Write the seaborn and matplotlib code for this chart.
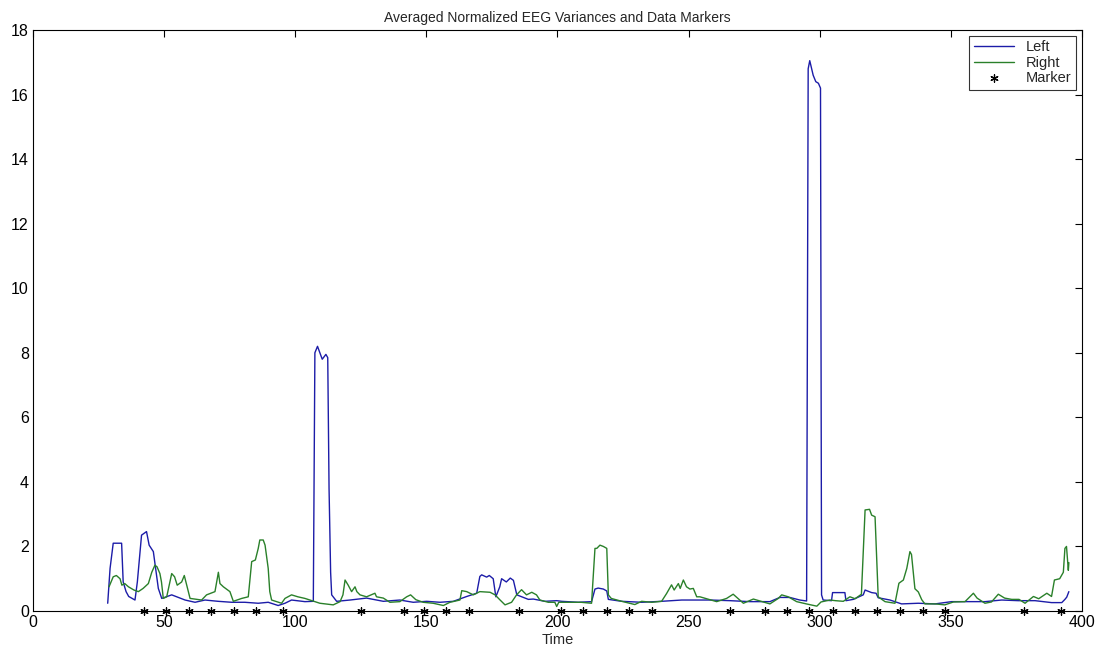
import matplotlib
matplotlib.use("Agg")
import matplotlib.pyplot as plt
import seaborn as sns

# Left channel (blue)
left_t = [28.5, 29.4, 30.6, 33.8, 34.4, 35.5, 36.5, 38.9, 39.8, 41.4, 43.3, 44.3, 45.9,
          47.8, 49.1, 52.9, 58.0, 61.8, 65.6, 70.6, 75.8, 80.8, 85.9, 89.7, 93.5, 96.1,
          98.6, 103.7, 106.9, 107.5, 108.5, 110.3, 111.7, 112.4, 112.9, 113.5, 113.9,
          115.8, 120.9, 127.2, 133.6, 139.9, 145.0, 150.1, 155.2, 160.3, 165.4, 169.2,
          170.4, 171.1, 173.0, 174.0, 175.5, 176.5, 178.0, 178.7, 180.5, 182.0, 183.2,
          184.5, 188.9, 190.8, 195.2, 199.7, 201.6, 207.9, 213.0, 214.3, 215.5, 217.5,
          218.8, 219.4, 224.5, 232.1, 239.7, 247.4, 252.4, 258.2, 265.8, 273.4, 281.0,
          284.8, 288.6, 292.4, 295.0, 295.6, 296.2, 297.5, 298.5, 299.5, 300.3, 300.7,
          301.3, 304.5, 304.9, 309.6, 310.0, 312.8, 316.6, 317.3, 319.8, 321.5, 322.3,
          326.8, 331.2, 337.6, 344.0, 350.3, 356.7, 363.0, 369.4, 375.7, 382.1, 388.4,
          392.3, 393.5, 394.2, 395.0]
left_v = [0.24, 1.32, 2.10, 2.10, 0.90, 0.60, 0.45, 0.34, 0.90, 2.35, 2.46, 2.04, 1.84,
          0.70, 0.39, 0.50, 0.34, 0.27, 0.34, 0.30, 0.27, 0.27, 0.24, 0.27, 0.17, 0.24,
          0.34, 0.29, 0.30, 8.00, 8.20, 7.80, 7.95, 7.85, 3.80, 1.20, 0.50,
          0.30, 0.34, 0.40, 0.30, 0.34, 0.27, 0.30, 0.27, 0.30, 0.45, 0.55,
          1.07, 1.12, 1.05, 1.10, 1.00, 0.44, 0.75, 1.00, 0.90, 1.02, 0.95,
          0.50, 0.36, 0.37, 0.30, 0.32, 0.30, 0.27, 0.29, 0.68, 0.71, 0.68,
          0.62, 0.36, 0.30, 0.27, 0.30, 0.34, 0.34, 0.34, 0.32, 0.29, 0.29,
          0.42, 0.42, 0.34, 0.31, 16.80, 17.05, 16.60, 16.40, 16.35, 16.20, 0.50,
          0.34, 0.32, 0.57, 0.57, 0.32, 0.36, 0.50, 0.65, 0.57, 0.55, 0.41,
          0.34, 0.22, 0.24, 0.22, 0.29, 0.29, 0.29, 0.34, 0.32, 0.32, 0.26,
          0.26, 0.36, 0.43, 0.60]

# Right channel (green)
right_t = [29.0, 30.6, 31.8, 33.2, 33.9, 35.0, 36.4, 38.5, 40.2, 42.0, 44.0, 45.3, 46.5,
           47.3, 48.4, 49.0, 49.7, 51.0, 52.9, 54.0, 55.0, 56.7, 57.7, 58.8, 59.9, 64.3,
           66.2, 69.4, 70.7, 71.3, 72.6, 75.1, 76.4, 79.6, 82.1, 83.4, 84.8, 85.9, 86.5,
           87.8, 88.5, 89.7, 90.3, 91.0, 94.8, 96.1, 98.6, 101.0, 103.7, 109.4, 114.5,
           117.1, 118.2, 119.0, 120.2, 121.5, 122.8, 123.5, 124.7, 127.2, 130.4, 131.0,
           133.6, 136.1, 139.9, 142.5, 144.0, 146.0, 148.8, 152.6, 156.5, 159.0, 162.8,
           163.5, 165.4, 167.9, 170.4, 174.3, 176.2, 178.0, 180.0, 182.5, 184.4, 186.3,
           188.2, 190.2, 192.0, 193.3, 196.5, 199.0, 199.7, 200.5, 205.4, 209.0, 213.0,
           214.3, 215.0, 216.2, 217.5, 218.8, 219.4, 220.5, 224.5, 229.5, 232.1, 236.0,
           239.7, 241.6, 243.5, 244.5, 246.1, 246.8, 248.0, 249.2, 250.5, 251.8, 253.1,
           254.3, 260.7, 264.5, 267.0, 270.9, 274.7, 281.0, 284.2, 285.5, 288.0, 291.2,
           294.9, 298.9, 300.5, 303.9, 306.0, 309.0, 311.5, 313.5, 315.9, 317.3, 319.0,
           319.8, 321.1, 322.3, 324.9, 328.7, 330.2, 331.9, 333.2, 334.4, 335.0, 336.3,
           337.6, 338.9, 340.1, 344.0, 347.7, 351.0, 355.4, 358.6, 360.0, 363.0, 365.5,
           368.1, 370.5, 373.2, 376.0, 378.3, 381.5, 383.5, 386.6, 388.4, 389.5, 391.5,
           392.9, 393.5, 394.1, 394.8, 395.0]
right_v = [0.75, 1.06, 1.10, 1.00, 0.80, 0.85, 0.75, 0.65, 0.60, 0.70, 0.85, 1.20, 1.42,
           1.37, 1.16, 0.90, 0.39, 0.44, 1.16, 1.06, 0.80, 0.90, 1.10, 0.75, 0.39, 0.34,
           0.50, 0.60, 1.20, 0.85, 0.75, 0.60, 0.30, 0.39, 0.44, 1.53, 1.58, 1.94, 2.20,
           2.20, 2.04, 1.32, 0.60, 0.34, 0.24, 0.39, 0.50, 0.44, 0.39, 0.24, 0.19,
           0.29, 0.50, 0.96, 0.80, 0.60, 0.75, 0.60, 0.50, 0.44, 0.55, 0.44,
           0.40, 0.27, 0.29, 0.44, 0.50, 0.35, 0.27, 0.24, 0.17, 0.27, 0.34,
           0.63, 0.60, 0.50, 0.60, 0.58, 0.50, 0.35, 0.19, 0.27, 0.50, 0.66,
           0.50, 0.58, 0.50, 0.34, 0.27, 0.27, 0.14, 0.27, 0.27, 0.27, 0.24,
           1.94, 1.94, 2.04, 2.00, 1.94, 0.50, 0.39, 0.30, 0.20, 0.30, 0.27,
           0.30, 0.54, 0.81, 0.65, 0.85, 0.70, 0.96, 0.75, 0.68, 0.70, 0.44,
           0.44, 0.29, 0.39, 0.52, 0.24, 0.37, 0.22, 0.39, 0.50, 0.44, 0.29,
           0.22, 0.15, 0.28, 0.34, 0.32, 0.30, 0.44, 0.38, 0.52, 3.13, 3.15,
           2.97, 2.92, 0.44, 0.29, 0.24, 0.86, 0.96, 1.32, 1.84, 1.75, 0.69,
           0.59, 0.35, 0.22, 0.22, 0.19, 0.28, 0.29, 0.55, 0.40, 0.24, 0.28,
           0.52, 0.40, 0.36, 0.36, 0.24, 0.45, 0.38, 0.55, 0.45, 0.96, 1.00,
           1.20, 1.94, 2.00, 1.26, 1.50]

# Data markers (time stamps)
marker_t = [42.3, 50.7, 59.4, 67.7, 76.8, 85.2, 95.3, 125.2, 141.5, 149.1, 157.4, 166.1,
            185.4, 201.3, 209.8, 218.8, 227.1, 235.9, 265.7, 279.1, 287.5, 296.0, 304.9,
            313.4, 322.0, 330.6, 339.4, 347.9, 378.0, 392.0]
marker_v = [0] * len(marker_t)

sns.set_theme(style="white")
plt.rcParams["font.family"] = ["Liberation Sans", "DejaVu Sans"]

fig = plt.figure(figsize=(10.99, 6.48), dpi=100)
ax = fig.add_axes([0.030, 0.0571, 0.9545, 0.8966])

sns.lineplot(x=left_t, y=left_v, color="#1c1ca8", linewidth=1.0, label="Left",
             sort=False, ax=ax)
sns.lineplot(x=right_t, y=right_v, color="#2a802a", linewidth=1.0, label="Right",
             sort=False, ax=ax)
sns.scatterplot(x=marker_t, y=marker_v, marker=(6, 2, 0), color="black", s=28,
                linewidth=0.9, label="Marker", clip_on=False, zorder=5, ax=ax)

ax.set_xlim(0, 400)
ax.set_ylim(0, 18)
ax.set_xticks(range(0, 401, 50))
ax.set_yticks(range(0, 19, 2))
ax.tick_params(direction="in", length=5, width=0.8, top=True, right=True,
               labelsize=11.5, colors="black", pad=3)
for s in ax.spines.values():
    s.set_color("black")
    s.set_linewidth(0.8)

ax.set_title("Averaged Normalized EEG Variances and Data Markers", fontsize=10, pad=6)
ax.set_xlabel("Time", fontsize=10.5, labelpad=2)
ax.set_ylabel("")

leg = ax.legend(loc="upper right", fontsize=10.5, frameon=True, fancybox=False,
                edgecolor="black", borderpad=0.3, labelspacing=0.1,
                handlelength=2.8, borderaxespad=0.4)
leg.get_frame().set_linewidth(0.8)

plt.savefig("out.png", dpi=100)
